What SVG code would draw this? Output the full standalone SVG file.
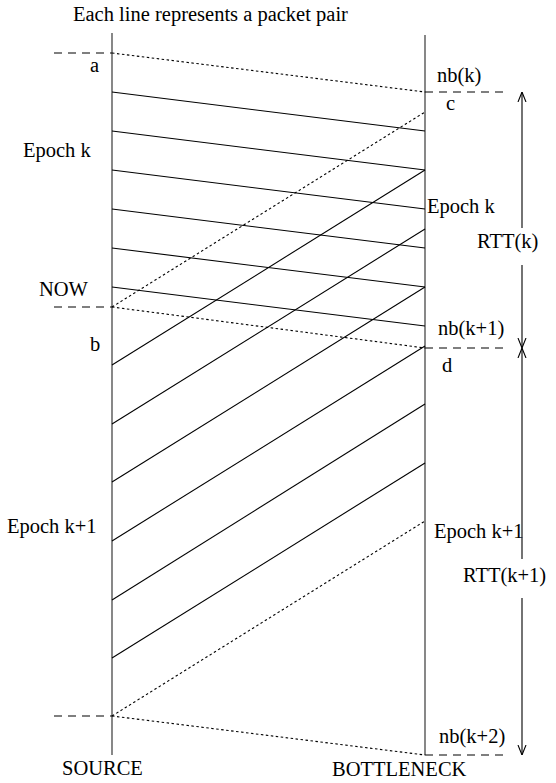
<svg xmlns="http://www.w3.org/2000/svg" width="556" height="783" viewBox="0 0 556 783">
<style>
text{font-family:"Liberation Serif","DejaVu Serif","Times New Roman",serif;font-size:20.5px;fill:#000}
.axis{stroke:#555;stroke-width:1.4;fill:none}
.pkt{stroke:#000;stroke-width:1.1;fill:none}
.dash{stroke:#000;stroke-width:1.1;stroke-dasharray:8,6;fill:none}
.dot{stroke:#000;stroke-width:1.1;stroke-dasharray:2.5,2.5;fill:none}
.arr{stroke:#000;stroke-width:1.1;fill:none}
</style>
<defs>
<marker id="ah" viewBox="0 0 10 10" refX="10" refY="5" markerWidth="10" markerHeight="10" markerUnits="userSpaceOnUse" orient="auto">
<path d="M0,1 L10,5 L0,9" fill="none" stroke="#000" stroke-width="1.1"/>
</marker>
</defs>
<g font-family="Liberation Serif, Times New Roman, serif">
<text x="73" y="21">Each line represents a packet pair</text>
<g id="source">
<line class="axis" x1="112" y1="33" x2="112" y2="755"/>
<text x="62" y="775">SOURCE</text>
</g>
<g id="bottleneck">
<line class="axis" x1="425" y1="35" x2="425" y2="755"/>
<text x="332" y="776">BOTTLENECK</text>
</g>
<g id="connectors">
<line class="dash" x1="54" y1="53" x2="112" y2="53"/>
<line class="dash" x1="54" y1="307" x2="112" y2="307"/>
<line class="dash" x1="54" y1="716" x2="112" y2="716"/>
<line class="dash" x1="425" y1="92" x2="505" y2="92"/>
<line class="dash" x1="425" y1="348" x2="505" y2="348"/>
<line class="dash" x1="425" y1="755" x2="505" y2="755"/>
<line class="dot" x1="112" y1="53" x2="425" y2="92"/>
<line class="dot" x1="112" y1="307" x2="425" y2="112"/>
<line class="dot" x1="112" y1="307" x2="425" y2="348"/>
<line class="dot" x1="112" y1="716" x2="425" y2="521"/>
<line class="dot" x1="112" y1="716" x2="425" y2="755"/>
<line class="pkt" x1="112" y1="92" x2="425" y2="131"/>
<line class="pkt" x1="112" y1="131" x2="425" y2="170"/>
<line class="pkt" x1="112" y1="170" x2="425" y2="209"/>
<line class="pkt" x1="112" y1="209" x2="425" y2="248"/>
<line class="pkt" x1="112" y1="248" x2="425" y2="287"/>
<line class="pkt" x1="112" y1="287" x2="425" y2="326"/>
<line class="pkt" x1="112" y1="365" x2="425" y2="170"/>
<line class="pkt" x1="112" y1="424" x2="425" y2="229"/>
<line class="pkt" x1="112" y1="482" x2="425" y2="287"/>
<line class="pkt" x1="112" y1="541" x2="425" y2="346"/>
<line class="pkt" x1="112" y1="600" x2="425" y2="404"/>
<line class="pkt" x1="112" y1="658" x2="425" y2="463"/>
<line class="arr" x1="522" y1="228" x2="522" y2="92" marker-end="url(#ah)"/>
<line class="arr" x1="522" y1="265" x2="522" y2="348" marker-end="url(#ah)"/>
<line class="arr" x1="522" y1="559" x2="522" y2="348" marker-end="url(#ah)"/>
<line class="arr" x1="522" y1="598" x2="522" y2="755" marker-end="url(#ah)"/>
</g>
<g id="labels">
<text x="90" y="72">a</text>
<text x="23" y="157">Epoch k</text>
<text x="39" y="296">NOW</text>
<text x="90" y="351">b</text>
<text x="7" y="533">Epoch k+1</text>
<text x="437" y="82">nb(k)</text>
<text x="446" y="110">c</text>
<text x="427" y="213">Epoch k</text>
<text x="477" y="248">RTT(k)</text>
<text x="438" y="335">nb(k+1)</text>
<text x="442" y="372">d</text>
<text x="434" y="538">Epoch k+1</text>
<text x="463" y="582">RTT(k+1)</text>
<text x="439" y="743">nb(k+2)</text>
</g>
</g>
</svg>
